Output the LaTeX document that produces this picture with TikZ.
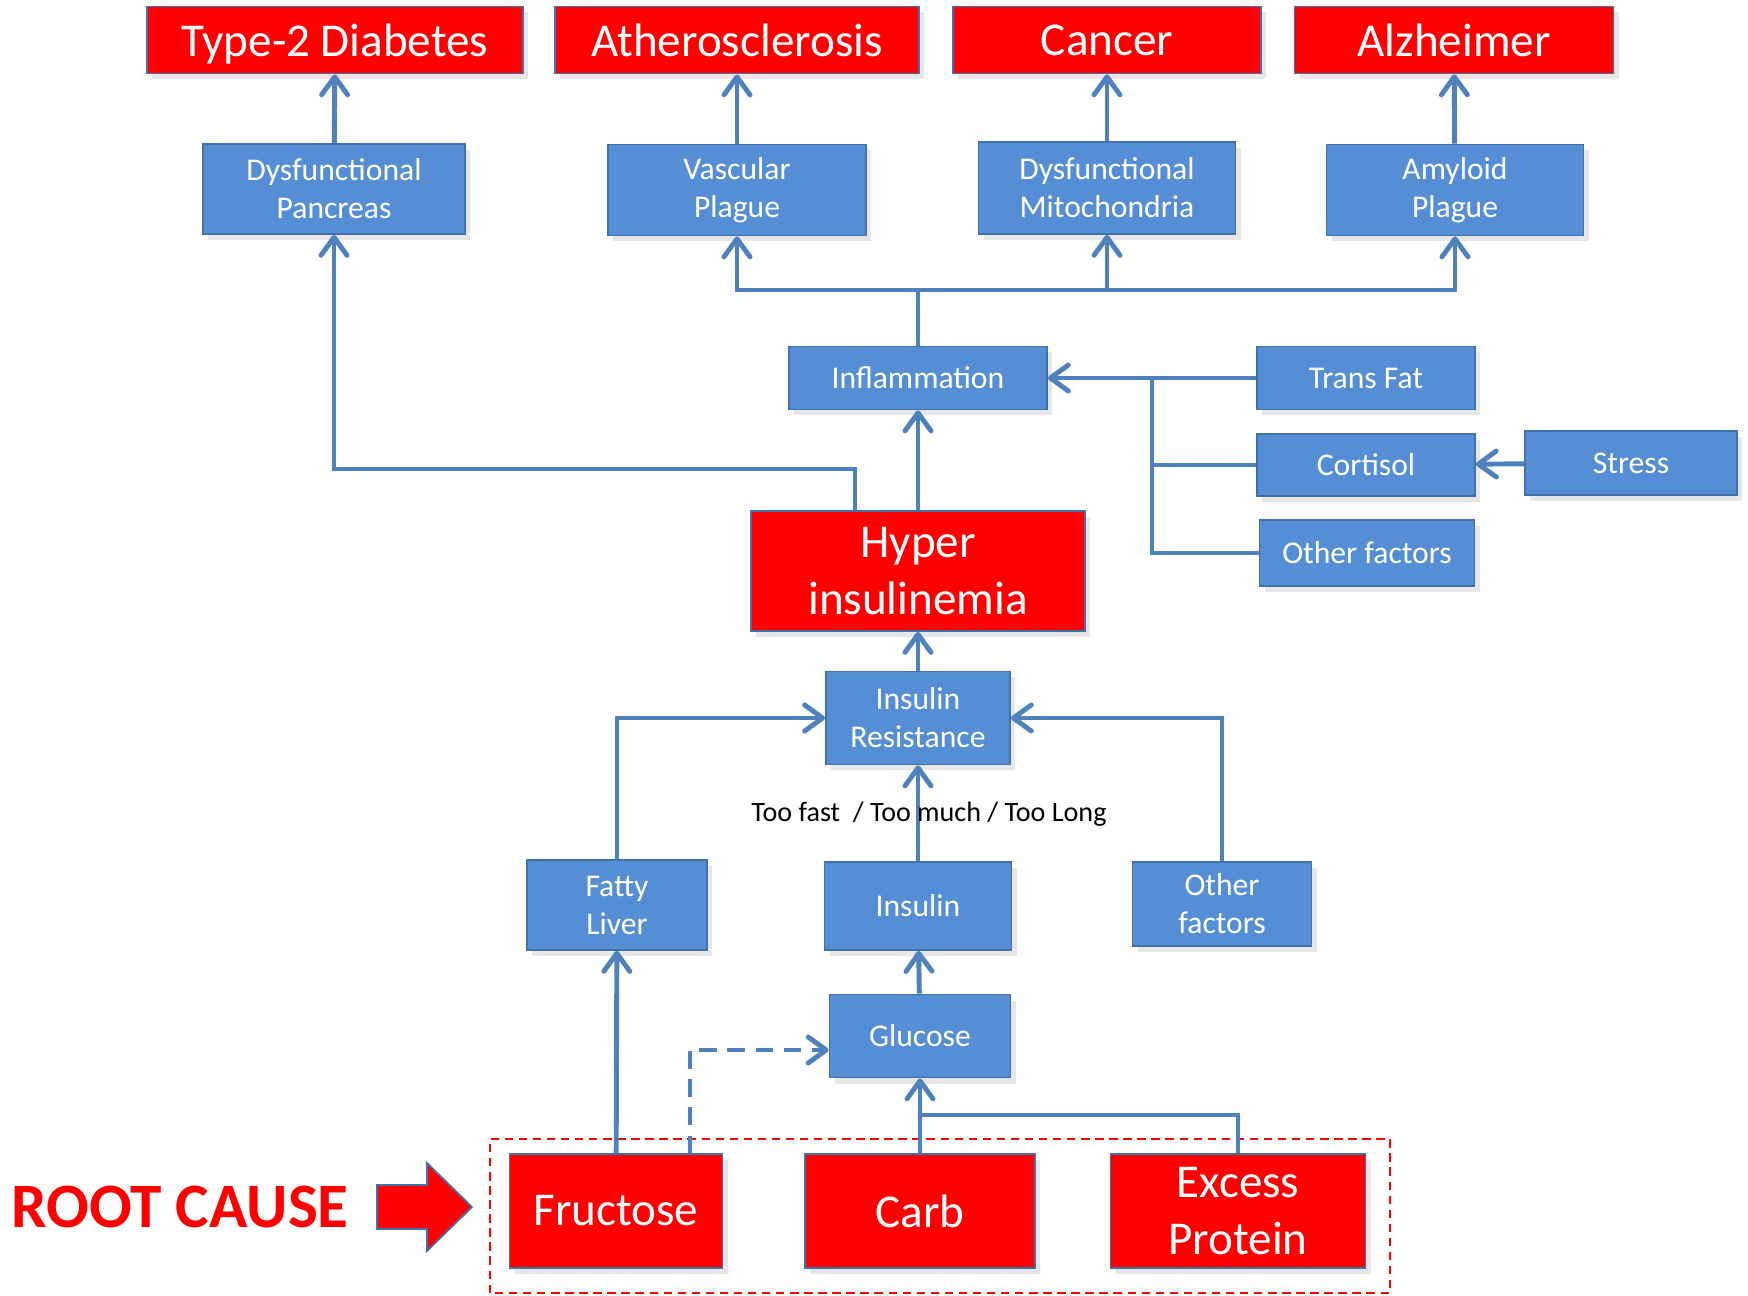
\documentclass[tikz,border=0pt]{standalone}
\usepackage{fontspec}
\setmainfont{Carlito}
\usetikzlibrary{arrows.meta,shadows}
\definecolor{boxblue}{RGB}{85,142,213}
\definecolor{lineblue}{RGB}{79,129,189}
\definecolor{rimblue}{RGB}{65,113,170}
\tikzset{
    factor/.style={rectangle,draw=rimblue,fill=boxblue,text=white,align=center,inner sep=0pt,line width=.5pt,
        font=\fontsize{9}{10.8}\selectfont,drop shadow={shadow xshift=.5mm,shadow yshift=-.6mm,opacity=.2}},
    disease/.style={factor,fill=red,font=\fontsize{13.4}{16}\selectfont},
    link/.style={draw=lineblue,line width=1.4pt},
    >={Straight Barb[length=1.8mm,width=2.6mm,round]}
}
\begin{document}
    \begin{tikzpicture}
        \useasboundingbox (0,0) rectangle (17.48,12.95);
        \node[disease,minimum width=3.76cm,minimum height=.67cm,text depth=0pt] at (3.35,12.55) (diabetes) {Type-2 Diabetes};
        \node[disease,minimum width=3.64cm,minimum height=.67cm] at (7.37,12.55) (athero) {Atherosclerosis};
        \node[disease,minimum width=3.08cm,minimum height=.67cm] at (11.07,12.55) (cancer) {Cancer};
        \node[disease,minimum width=3.19cm,minimum height=.67cm] at (14.54,12.55) (alzheimer) {Alzheimer};
        \node[factor,minimum width=2.62cm,minimum height=.9cm] at (3.34,11.06) (pancreas) {Dysfunctional\\Pancreas};
        \node[factor,minimum width=2.58cm,minimum height=.91cm] at (7.37,11.05) (vascular) {Vascular\\Plague};
        \node[factor,minimum width=2.57cm,minimum height=.92cm] at (11.07,11.07) (mito) {Dysfunctional\\Mitochondria};
        \node[factor,minimum width=2.57cm,minimum height=.91cm] at (14.55,11.05) (amyloid) {Amyloid\\Plague};
        \node[factor,minimum width=2.58cm,minimum height=.63cm] at (9.18,9.17) (inflam) {Inflammation};
        \node[factor,minimum width=2.18cm,minimum height=.63cm] at (13.66,9.17) (transfat) {Trans Fat};
        \node[factor,minimum width=2.18cm,minimum height=.62cm] at (13.66,8.3) (cortisol) {Cortisol};
        \node[factor,minimum width=2.12cm,minimum height=.64cm] at (16.31,8.32) (stress) {Stress};
        \node[factor,minimum width=2.15cm,minimum height=.66cm] at (13.67,7.42) (otherinf) {Other factors};
        \node[disease,minimum width=3.34cm,minimum height=1.2cm] at (9.18,7.24) (hyper) {Hyper\\insulinemia};
        \node[factor,minimum width=1.84cm,minimum height=.93cm] at (9.18,5.77) (resist) {Insulin\\Resistance};
        \node[factor,minimum width=1.8cm,minimum height=.9cm] at (6.17,3.9) (fatty) {Fatty\\Liver};
        \node[factor,minimum width=1.87cm,minimum height=.88cm] at (9.18,3.89) (insulin) {Insulin};
        \node[factor,minimum width=1.79cm,minimum height=.84cm] at (12.22,3.91) (otherres) {Other\\factors};
        \node[factor,minimum width=1.81cm,minimum height=.83cm] at (9.2,2.59) (glucose) {Glucose};
        \node[disease,minimum width=2.13cm,minimum height=1.14cm] at (6.16,.84) (fructose) {Fructose};
        \node[disease,minimum width=2.3cm,minimum height=1.14cm] at (9.2,.84) (carb) {Carb};
        \node[disease,minimum width=2.55cm,minimum height=1.14cm] at (12.38,.84) (protein) {Excess\\Protein};
        \node[text=red,font=\bfseries\fontsize{18}{20}\selectfont] at (1.8,.88) (rootcause) {ROOT CAUSE};
        \draw[red,line width=.6pt,dash pattern=on 2.4pt off 1.6pt] (4.9,.02) rectangle (13.9,1.56);
        \draw[fill=red,draw=rimblue,line width=.5pt] (3.77,.66) -- (4.27,.66) -- (4.27,.44) -- (4.72,.88) -- (4.27,1.32) -- (4.27,1.1) -- (3.77,1.1) -- cycle;
        \draw[link,->] (pancreas) -- (diabetes);
        \draw[link,->] (vascular) -- (athero);
        \draw[link,->] (mito) -- (cancer);
        \draw[link,->] (amyloid) -- (alzheimer);
        \coordinate (bus) at (9.18,10.05);
        \draw[link,->] (inflam) -- (bus) -| (vascular);
        \draw[link,->] (bus) -| (mito);
        \draw[link,->] (bus) -| (amyloid);
        \draw[link,->] (hyper) -- (inflam);
        \coordinate (turn) at (8.55,8.26);
        \draw[link,->] (hyper.north -| turn) -- (turn) -| (pancreas);
        \draw[link,->] (transfat) -- (inflam);
        \coordinate (junction) at (11.52,9.17);
        \draw[link] (otherinf) -| (junction);
        \draw[link] (cortisol) -- (cortisol -| junction);
        \draw[link,->] (stress) -- (cortisol);
        \draw[link,->] (resist) -- (hyper);
        \draw[link,->] (fatty) |- (resist);
        \draw[link,->] (otherres) |- (resist);
        \draw[link,->] (insulin) -- (resist);
        \node[font=\fontsize{8}{9.6}\selectfont] at (9.29,4.81) (speed) {Too fast\ \ / Too much / Too Long};
        \draw[link,->] (glucose) -- (insulin);
        \draw[link,->] (fructose) -- (fatty);
        \draw[link,->,dash pattern=on 5pt off 3pt] ([xshift=7.4mm]fructose.north) |- ([yshift=-1.4mm]glucose.west);
        \draw[link,->] (carb) -- (glucose);
        \coordinate (merge) at (9.2,1.8);
        \draw[link] (protein) |- (merge);
    \end{tikzpicture}
\end{document}
